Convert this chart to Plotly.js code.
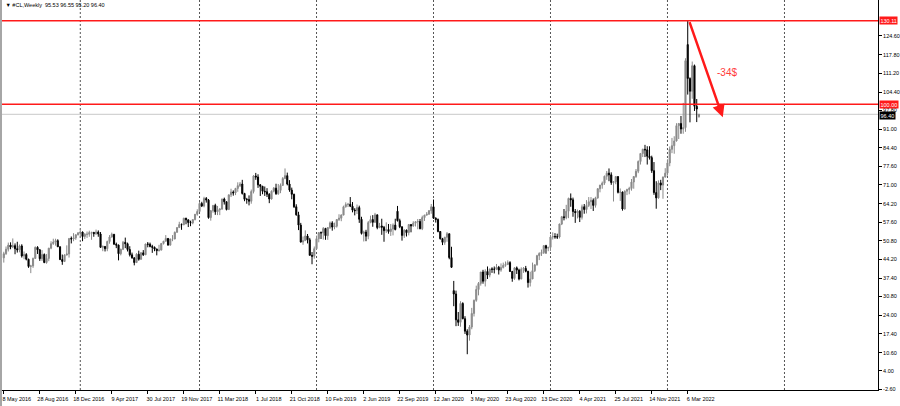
<!DOCTYPE html>
<html>
<head>
<meta charset="utf-8">
<script src="https://cdn.plot.ly/plotly-3.0.1.min.js"></script>
<style>
html,body{margin:0;padding:0;background:#ffffff;}
#wrap{position:relative;width:900px;height:406px;overflow:hidden;}
#chart{position:absolute;left:0;top:0;width:900px;height:406px;}
#frame{position:absolute;left:0;top:0;width:2px;height:406px;background:#a6a6a6;}
</style>
</head>
<body>
<div id="wrap"><div id="chart"></div><div id="frame"></div></div>
<script>
// ---- Data: #CL weekly bars (week start, Sunday) ----
const symbolName = "#CL,Weekly";
const weekDays2016 = "05-08 05-15 05-22 05-29 06-05 06-12 06-19 06-26 07-03 07-10 07-17 07-24 07-31 08-07 08-14 08-21 08-28 09-04 09-11 09-18 09-25 10-02 10-09 10-16 10-23 10-30 11-06 11-13 11-20 11-27 12-04 12-11 12-18 12-25";
const weekDays2017 = "01-01 01-08 01-15 01-22 01-29 02-05 02-12 02-19 02-26 03-05 03-12 03-19 03-26 04-02 04-09 04-16 04-23 04-30 05-07 05-14 05-21 05-28 06-04 06-11 06-18 06-25 07-02 07-09 07-16 07-23 07-30 08-06 08-13 08-20 08-27 09-03 09-10 09-17 09-24 10-01 10-08 10-15 10-22 10-29 11-05 11-12 11-19 11-26 12-03 12-10 12-17 12-24 12-31";
const weekDays2018 = "01-07 01-14 01-21 01-28 02-04 02-11 02-18 02-25 03-04 03-11 03-18 03-25 04-01 04-08 04-15 04-22 04-29 05-06 05-13 05-20 05-27 06-03 06-10 06-17 06-24 07-01 07-08 07-15 07-22 07-29 08-05 08-12 08-19 08-26 09-02 09-09 09-16 09-23 09-30 10-07 10-14 10-21 10-28 11-04 11-11 11-18 11-25 12-02 12-09 12-16 12-23 12-30";
const weekDays2019 = "01-06 01-13 01-20 01-27 02-03 02-10 02-17 02-24 03-03 03-10 03-17 03-24 03-31 04-07 04-14 04-21 04-28 05-05 05-12 05-19 05-26 06-02 06-09 06-16 06-23 06-30 07-07 07-14 07-21 07-28 08-04 08-11 08-18 08-25 09-01 09-08 09-15 09-22 09-29 10-06 10-13 10-20 10-27 11-03 11-10 11-17 11-24 12-01 12-08 12-15 12-22 12-29";
const weekDays2020 = "01-05 01-12 01-19 01-26 02-02 02-09 02-16 02-23 03-01 03-08 03-15 03-22 03-29 04-05 04-12 04-19 04-26 05-03 05-10 05-17 05-24 05-31 06-07 06-14 06-21 06-28 07-05 07-12 07-19 07-26 08-02 08-09 08-16 08-23 08-30 09-06 09-13 09-20 09-27 10-04 10-11 10-18 10-25 11-01 11-08 11-15 11-22 11-29 12-06 12-13 12-20 12-27";
const weekDays2021 = "01-03 01-10 01-17 01-24 01-31 02-07 02-14 02-21 02-28 03-07 03-14 03-21 03-28 04-04 04-11 04-18 04-25 05-02 05-09 05-16 05-23 05-30 06-06 06-13 06-20 06-27 07-04 07-11 07-18 07-25 08-01 08-08 08-15 08-22 08-29 09-05 09-12 09-19 09-26 10-03 10-10 10-17 10-24 10-31 11-07 11-14 11-21 11-28 12-05 12-12 12-19 12-26";
const weekDays2022 = "01-02 01-09 01-16 01-23 01-30 02-06 02-13 02-20 02-27 03-06 03-13 03-20 03-27 04-03 04-10";

const openPrices = [
44.7,46.2,47.8,49.3,48.6,49.1,48.0,47.6,49.0,45.4,45.9,44.2,41.6,41.8,44.5,48.5,47.6,44.4,45.9,43.0,44.5,48.2,49.8,50.4,50.9,48.7,44.1,43.4,45.7,46.1,51.7,51.5,51.9,53.0,
53.7,54.0,52.4,53.2,53.2,53.8,53.9,53.4,54.0,53.3,48.5,48.8,48.0,50.6,52.2,53.2,49.6,49.3,46.2,47.8,50.3,49.8,47.7,45.8,44.7,43.0,46.0,44.2,46.5,45.8,49.7,49.6,48.8,48.5,47.9,47.3,47.5,49.9,50.7,51.7,49.3,51.5,51.5,53.9,55.6,56.7,56.6,59.0,58.4,57.4,57.3,58.5,60.4,
61.4,64.3,63.4,66.1,65.5,59.2,61.7,63.6,61.3,62.0,62.3,65.9,64.9,62.1,67.4,68.4,68.1,69.7,70.7,71.3,67.9,65.8,65.7,65.1,68.6,74.2,73.8,71.0,70.5,68.7,68.5,67.6,65.9,68.7,69.8,67.8,69.0,70.8,73.3,74.3,71.3,69.1,67.6,63.1,60.2,56.5,50.4,50.9,52.6,51.2,45.6,45.3,
48.0,51.6,53.8,53.7,55.3,52.7,55.6,57.3,55.8,56.1,58.5,59.0,60.1,63.1,63.9,64.0,63.3,61.9,61.7,62.8,58.6,53.5,54.0,52.5,57.4,58.5,57.5,60.2,55.6,56.2,55.7,54.5,54.9,54.2,55.1,56.5,61.5,58.1,55.9,52.8,54.7,53.8,56.7,56.2,57.2,57.7,57.8,55.2,59.2,60.1,60.4,61.7,
63.1,59.0,58.5,54.2,51.6,50.3,52.1,53.4,44.8,32.9,31.7,22.4,21.5,28.3,22.8,18.3,16.9,19.8,24.7,29.4,33.3,35.5,39.6,36.3,39.8,38.5,40.7,40.6,40.6,41.3,40.3,41.2,42.0,42.3,43.0,39.8,37.3,41.1,40.3,37.1,40.6,40.9,39.9,35.8,37.1,40.1,42.2,45.5,46.3,46.6,49.1,48.2,
48.5,52.2,52.4,52.3,52.2,56.9,59.5,59.2,61.5,66.1,65.6,61.4,61.0,61.5,59.3,63.1,62.1,63.6,64.9,65.4,63.6,66.3,69.6,70.9,71.6,74.1,75.2,74.6,71.8,72.1,74.0,68.3,68.4,62.3,68.7,69.3,69.7,72.0,74.0,75.9,79.4,82.3,83.8,83.6,81.3,80.8,76.1,68.2,66.3,71.7,70.9,73.8,
75.2,78.9,83.8,85.1,86.8,92.3,93.1,91.1,91.6,121.5,109.3,104.7,113.9,99.3,95.53];

const highPrices = [
46.9,48.8,50.2,50.3,51.7,49.9,50.5,49.5,49.6,47.0,46.4,44.4,42.2,44.8,48.8,48.9,47.9,47.5,46.3,46.1,48.3,50.7,51.6,51.6,51.4,48.8,45.9,46.0,49.2,51.7,52.4,53.6,53.2,54.0,
55.2,54.2,53.6,54.2,54.5,54.0,54.0,54.9,54.6,54.0,49.2,49.0,50.9,52.9,53.8,53.2,50.2,49.5,48.0,50.8,52.0,50.2,48.9,46.6,44.9,46.4,47.3,46.8,47.5,49.8,50.4,50.2,49.4,48.8,48.0,49.4,50.0,50.8,52.9,51.8,51.6,52.9,54.2,55.7,57.7,57.1,59.1,59.1,58.5,58.1,58.5,60.5,62.2,
64.8,64.9,66.7,66.6,65.9,61.9,63.6,64.2,63.4,62.5,66.0,66.4,65.0,67.5,69.6,69.0,69.9,71.9,72.0,72.8,68.1,66.3,67.2,69.3,74.5,75.3,74.8,71.3,70.6,70.4,69.8,68.0,69.0,70.2,71.4,71.3,71.5,73.8,76.9,75.4,72.7,70.0,67.8,64.0,61.3,57.3,52.4,54.6,53.3,51.9,46.8,48.8,
52.7,53.9,54.2,55.8,55.5,55.8,57.8,57.9,57.4,58.7,60.4,60.4,63.5,64.7,64.5,66.6,64.8,62.6,63.9,63.5,59.5,54.5,54.8,58.0,59.9,60.1,60.9,60.3,57.3,58.8,56.2,57.5,56.9,56.9,57.1,58.8,63.4,58.8,56.0,55.0,54.9,56.9,56.9,57.9,57.9,58.7,58.7,59.9,60.2,61.2,61.9,64.1,
65.7,59.3,58.9,54.3,51.9,52.3,54.0,53.4,48.7,36.4,32.9,25.2,29.1,28.7,23.7,19.0,20.5,26.7,29.7,34.7,36.0,39.6,40.4,40.6,41.6,40.8,41.3,41.6,42.5,41.8,42.7,43.0,43.4,43.8,43.5,40.0,41.4,41.6,40.8,41.3,41.4,41.8,40.0,39.7,43.0,42.3,45.8,46.7,47.7,49.3,49.4,48.6,
53.0,53.9,53.6,53.4,57.0,59.8,62.3,63.8,66.4,67.9,66.4,62.3,62.1,61.9,63.9,64.1,65.5,66.6,66.6,66.1,66.7,69.8,71.0,72.2,74.3,76.0,76.9,75.5,72.2,74.0,74.0,69.7,68.6,69.0,69.6,70.3,73.1,74.0,76.7,79.8,82.3,84.0,85.4,84.9,84.9,81.5,79.2,72.3,72.6,72.8,74.0,77.0,
80.2,84.8,87.9,88.5,93.2,93.2,95.8,100.5,116.6,130.11,109.7,115.4,114.3,101.9,96.55];

const lowPrices = [
43.0,45.8,47.0,47.8,48.2,46.0,46.6,46.7,44.8,44.2,43.8,41.1,39.2,41.1,44.3,46.1,43.6,43.6,42.8,42.6,43.5,47.8,49.4,49.1,48.6,43.9,42.2,43.2,45.6,44.8,49.9,50.7,51.2,52.8,
51.9,50.7,51.5,51.9,52.3,51.2,52.3,53.0,52.3,48.3,47.1,47.0,47.1,49.8,52.0,49.5,48.2,43.8,45.6,47.5,48.2,47.0,45.2,44.4,42.0,42.9,43.7,44.0,45.4,45.8,48.5,48.5,46.5,47.1,45.6,47.0,47.4,49.5,50.6,49.1,49.1,50.7,51.4,53.8,55.6,54.8,56.5,56.8,55.8,56.1,56.8,58.2,59.9,
61.3,63.0,62.9,64.6,58.8,58.1,61.0,60.2,60.1,60.1,62.0,63.9,61.8,62.0,66.6,67.1,67.3,68.5,70.2,67.5,65.1,64.2,63.6,64.2,67.9,72.8,69.9,67.0,67.6,67.0,66.6,64.4,65.7,68.3,67.4,67.4,68.0,70.6,73.0,70.8,68.5,65.8,62.7,59.9,54.7,50.2,49.4,50.9,49.9,45.6,42.4,44.4,
47.6,50.3,51.5,51.3,51.2,51.2,55.1,54.5,55.0,55.6,58.0,57.9,60.1,62.8,63.0,63.0,61.1,60.0,60.5,57.3,53.1,50.6,50.7,51.4,57.2,55.9,57.4,55.0,55.4,53.0,50.5,53.7,53.4,52.6,52.8,54.6,57.8,55.4,50.9,51.9,52.4,52.8,53.9,55.9,56.0,55.0,55.0,54.7,58.0,59.9,60.3,60.6,
58.7,57.4,53.9,51.3,49.3,49.4,50.5,44.2,41.1,27.3,20.1,20.2,19.9,22.6,17.3,10.0,14.9,19.0,23.6,28.9,31.2,34.7,35.4,34.4,37.1,37.7,39.3,39.1,40.3,38.7,39.7,40.9,41.5,42.1,39.7,36.1,36.8,38.9,36.6,37.0,39.3,39.5,34.0,34.4,37.1,39.6,41.9,43.9,45.4,46.1,46.2,47.1,
47.2,51.3,51.6,51.5,51.7,56.5,58.2,58.6,59.0,63.1,59.5,57.3,58.9,57.6,58.5,60.6,60.7,63.0,62.3,61.6,62.8,66.0,68.3,69.6,71.0,72.8,72.3,71.0,65.0,71.2,67.9,65.2,61.7,62.1,67.3,67.6,68.9,69.6,73.5,75.2,78.3,81.0,81.0,78.3,80.1,75.3,67.4,62.4,66.0,69.1,66.0,73.6,
74.3,77.7,82.4,82.2,86.6,87.5,89.4,89.4,90.1,103.5,93.5,102.0,97.6,93.6,95.20];

const closePrices = [
46.2,47.8,49.3,48.6,49.1,48.0,47.6,49.0,45.4,45.9,44.2,41.6,41.8,44.5,48.5,47.6,44.4,45.9,43.0,44.5,48.2,49.8,50.4,50.9,48.7,44.1,43.4,45.7,46.1,51.7,51.5,51.9,53.0,53.7,
54.0,52.4,53.2,53.2,53.8,53.9,53.4,54.0,53.3,48.5,48.8,48.0,50.6,52.2,53.2,49.6,49.3,46.2,47.8,50.3,49.8,47.7,45.8,44.7,43.0,46.0,44.2,46.5,45.8,49.7,49.6,48.8,48.5,47.9,47.3,47.5,49.9,50.7,51.7,49.3,51.5,51.5,53.9,55.6,56.7,56.6,59.0,58.4,57.4,57.3,58.5,60.4,61.4,
64.3,63.4,66.1,65.5,59.2,61.7,63.6,61.3,62.0,62.3,65.9,64.9,62.1,67.4,68.4,68.1,69.7,70.7,71.3,67.9,65.8,65.7,65.1,68.6,74.2,73.8,71.0,70.5,68.7,68.5,67.6,65.9,68.7,69.8,67.8,69.0,70.8,73.3,74.3,71.3,69.1,67.6,63.1,60.2,56.5,50.4,50.9,52.6,51.2,45.6,45.3,48.0,
51.6,53.8,53.7,55.3,52.7,55.6,57.3,55.8,56.1,58.5,59.0,60.1,63.1,63.9,64.0,63.3,61.9,61.7,62.8,58.6,53.5,54.0,52.5,57.4,58.5,57.5,60.2,55.6,56.2,55.7,54.5,54.9,54.2,55.1,56.5,54.9,58.1,55.9,52.8,54.7,53.8,56.7,56.2,57.2,57.7,57.8,55.2,59.2,60.1,60.4,61.7,63.1,
59.0,58.5,54.2,51.6,50.3,52.1,53.4,44.8,41.3,31.7,22.4,21.5,28.3,22.8,18.3,16.9,19.8,24.7,29.4,33.3,35.5,39.6,36.3,39.8,38.5,40.7,40.6,40.6,41.3,40.3,41.2,42.0,42.3,43.0,39.8,37.3,41.1,40.3,37.1,40.6,40.9,39.9,35.8,37.1,40.1,42.2,45.5,46.3,46.6,49.1,48.2,48.5,
52.2,52.4,52.3,52.2,56.9,59.5,59.2,61.5,66.1,65.6,61.4,61.0,61.5,59.3,63.1,62.1,63.6,64.9,65.4,63.6,66.3,69.6,70.9,71.6,74.1,75.2,74.6,71.8,72.1,74.0,68.3,68.4,62.3,68.7,69.3,69.7,72.0,74.0,75.9,79.4,82.3,83.8,83.6,81.3,80.8,76.1,68.2,66.3,71.7,70.9,73.8,75.2,
78.9,83.8,85.1,86.8,92.3,93.1,91.1,91.6,115.7,109.3,104.7,113.9,99.3,98.3,96.40];

// Axis tick labels (as printed on the chart)
const xTickDates = ["2016-05-08","2016-08-28","2016-12-18","2017-04-09","2017-07-30","2017-11-19","2018-03-11","2018-07-01","2018-10-21","2019-02-10","2019-06-02","2019-09-22","2020-01-12","2020-05-03","2020-08-23","2020-12-13","2021-04-04","2021-07-25","2021-11-14","2022-03-06"];
const xTickLabels = ["8 May 2016","28 Aug 2016","18 Dec 2016","9 Apr 2017","30 Jul 2017","19 Nov 2017","11 Mar 2018","1 Jul 2018","21 Oct 2018","10 Feb 2019","2 Jun 2019","22 Sep 2019","12 Jan 2020","3 May 2020","23 Aug 2020","13 Dec 2020","4 Apr 2021","25 Jul 2021","14 Nov 2021","6 Mar 2022"];
const yTickValues = [124.6,117.8,111.2,104.4,97.8,91.0,84.4,77.6,71.0,64.2,57.6,50.8,44.2,37.4,30.8,24.0,17.4,10.6,4.0,-2.6];
const yTickLabels = ["124.60","117.80","111.20","104.40","97.80","91.00","84.40","77.60","71.00","64.20","57.60","50.80","44.20","37.40","30.80","24.00","17.40","10.60","4.00","-2.60"];
const yearGridDates = ["2017-01-01","2018-01-07","2019-01-06","2020-01-05","2021-01-03","2022-01-02","2023-01-01"];

// Drawn levels / annotation
const resistanceLevel = 130.11;
const supportLevel = 100.00;
const dropLabel = "-34$";
const arrowFrom = {date: "2022-03-10", price: 130.11};
const arrowTo = {date: "2022-06-23", price: 95.3};
const dropLabelPos = {date: "2022-07-06", price: 111.6};

// ---- Build ----
const weekStart = [].concat(
  weekDays2016.split(" ").map(d => "2016-" + d),
  weekDays2017.split(" ").map(d => "2017-" + d),
  weekDays2018.split(" ").map(d => "2018-" + d),
  weekDays2019.split(" ").map(d => "2019-" + d),
  weekDays2020.split(" ").map(d => "2020-" + d),
  weekDays2021.split(" ").map(d => "2021-" + d),
  weekDays2022.split(" ").map(d => "2022-" + d)
);
const n = closePrices.length;
const lastO = openPrices[n-1], lastH = highPrices[n-1], lastL = lowPrices[n-1], lastC = closePrices[n-1];

const FONT = "Liberation Sans, Arial, sans-serif";
const SMALL = 5.5;

const trace = {
  type: "candlestick",
  x: weekStart,
  open: openPrices, high: highPrices, low: lowPrices, close: closePrices,
  increasing: {line: {color: "#8a8a8a", width: 1}, fillcolor: "#8a8a8a"},
  decreasing: {line: {color: "#000000", width: 1}, fillcolor: "#000000"},
  whiskerwidth: 0,
  hoverinfo: "skip",
  showlegend: false
};

const shapes = [];
yearGridDates.forEach(d => shapes.push({
  type: "line", xref: "x", yref: "paper", x0: d, x1: d, y0: 0, y1: 1,
  line: {color: "#555555", width: 1, dash: "2px,2px"}, layer: "below"
}));
shapes.push({type:"line", xref:"paper", yref:"y", x0:0, x1:1, y0:lastC, y1:lastC, line:{color:"#c8c8c8", width:1}, layer:"below"});
shapes.push({type:"line", xref:"paper", yref:"y", x0:0, x1:1, y0:resistanceLevel, y1:resistanceLevel, line:{color:"#ff1a1a", width:1.5}});
shapes.push({type:"line", xref:"paper", yref:"y", x0:0, x1:1, y0:supportLevel, y1:supportLevel, line:{color:"#ff1a1a", width:1.5}});

function priceBox(v, bg, shift) {
  return {xref:"paper", yref:"y", x:1, y:v, xanchor:"left", yanchor:"middle", xshift:1, yshift:shift,
    text: v.toFixed(2), showarrow:false, bgcolor:bg, borderpad:0.5,
    font:{family:FONT, size:SMALL, color:"#ffffff"}};
}

const annotations = [
  priceBox(resistanceLevel, "#ff1a1a", 0),
  priceBox(supportLevel, "#ff1a1a", 0),
  priceBox(lastC, "#000000", -1.5),
  {xref:"x", yref:"y", axref:"x", ayref:"y", x:arrowTo.date, y:arrowTo.price, ax:arrowFrom.date, ay:arrowFrom.price,
   text:"", showarrow:true, arrowhead:2, arrowsize:1, arrowwidth:2.5, arrowcolor:"#ff1a1a", standoff:0, startstandoff:0},
  {xref:"x", yref:"y", x:dropLabelPos.date, y:dropLabelPos.price, text:dropLabel, showarrow:false,
   font:{family:FONT, size:10, color:"#ff3b3b"}}
];

const layout = {
  width: 900, height: 406,
  margin: {l: 2, r: 22, t: 0, b: 16},
  paper_bgcolor: "#ffffff", plot_bgcolor: "#ffffff",
  font: {family: FONT, size: SMALL, color: "#000000"},
  title: {text: "▼ " + symbolName + "  " + lastO.toFixed(2) + " " + lastH.toFixed(2) + " " + lastL.toFixed(2) + " " + lastC.toFixed(2),
          x: 0.006, xref: "container", xanchor: "left", y: 0.988, yref: "container", yanchor: "middle",
          font: {family: FONT, size: SMALL, color: "#000000"}},
  xaxis: {
    type: "date", range: ["2016-05-02 10:00", "2023-10-19"],
    rangeslider: {visible: false},
    tickmode: "array", tickvals: xTickDates, ticktext: xTickLabels,
    ticks: "outside", ticklen: 3, tickwidth: 1, tickcolor: "#000000",
    ticklabelshift: 13,
    showgrid: false, zeroline: false, showline: true, linecolor: "#000000", linewidth: 1,
    tickfont: {family: FONT, size: SMALL, color: "#000000"}
  },
  yaxis: {
    side: "right", range: [-2.88, 137.56],
    tickmode: "array", tickvals: yTickValues, ticktext: yTickLabels,
    ticks: "outside", ticklen: 3, tickwidth: 1, tickcolor: "#000000",
    showgrid: false, zeroline: false, showline: true, linecolor: "#000000", linewidth: 1,
    tickfont: {family: FONT, size: SMALL, color: "#000000"}
  },
  shapes: shapes,
  annotations: annotations,
  showlegend: false
};

Plotly.newPlot("chart", [trace], layout, {displayModeBar: false, staticPlot: true});
</script>
</body>
</html>
